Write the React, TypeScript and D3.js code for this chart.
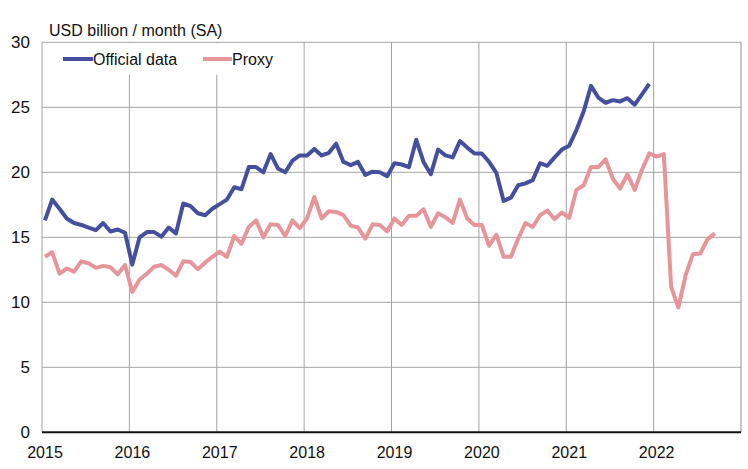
import React from "react";
import * as d3 from "d3";

const startYear = 2015;
const yearTicks = [2015, 2016, 2017, 2018, 2019, 2020, 2021, 2022];
const yTicks = [0, 5, 10, 15, 20, 25, 30];

// Monthly values from Jan 2015
const officialData = [
  16.3, 17.9, 17.2, 16.45, 16.1, 15.95, 15.75, 15.55, 16.1, 15.45, 15.6, 15.35,
  12.9, 15.0, 15.4, 15.4, 15.05, 15.75, 15.3, 17.6, 17.4, 16.85, 16.7, 17.2,
  17.55, 17.9, 18.85, 18.7, 20.4, 20.4, 20.0, 21.4, 20.3, 20.0, 20.9, 21.3,
  21.3, 21.8, 21.3, 21.5, 22.2, 20.8, 20.55, 20.8, 19.8, 20.05, 20.0, 19.7,
  20.7, 20.6, 20.4, 22.5, 20.8, 19.85, 21.75, 21.3, 21.15, 22.4, 21.9, 21.45,
  21.45, 20.8, 19.95, 17.8, 18.05, 19.0, 19.15, 19.4, 20.7, 20.5, 21.15, 21.75,
  22.05, 23.25, 24.7, 26.65, 25.75, 25.35, 25.55, 25.45, 25.7, 25.2, 26.0, 26.8,
];

const proxyData = [
  13.5, 13.85, 12.2, 12.6, 12.36, 13.15, 13.0, 12.65, 12.8, 12.7, 12.15, 12.87,
  10.8, 11.75, 12.2, 12.74, 12.87, 12.5, 12.05, 13.15, 13.1, 12.55, 13.05, 13.5,
  13.9, 13.5, 15.1, 14.5, 15.8, 16.3, 15.0, 16.0, 15.95, 15.1, 16.3, 15.7,
  16.45, 18.1, 16.45, 17.0, 16.95, 16.7, 15.9, 15.75, 14.9, 16.0, 15.95, 15.45,
  16.45, 15.95, 16.65, 16.65, 17.15, 15.8, 16.85, 16.55, 16.1, 17.9, 16.45, 15.95,
  15.95, 14.35, 15.2, 13.5, 13.5, 14.9, 16.1, 15.8, 16.7, 17.05, 16.4, 16.9,
  16.5, 18.65, 19.0, 20.4, 20.4, 21.0, 19.5, 18.75, 19.85, 18.65, 20.2, 21.45,
  21.2, 21.4, 11.2, 9.6, 12.1, 13.7, 13.75, 14.85, 15.3,
];

const seriesNames = ["Official data", "Proxy"];
const yAxisTitle = "USD billion / month (SA)";

const W = 748;
const H = 469;
const left = 42;
const right = 741;
const top = 42.3;
const bottom = 432.3;

const BLUE = "#444f9e";
const PINK = "#e6969a";
const GRID = "#a3a3a3";

export default function App() {
  const x = d3.scaleLinear().domain([2015, 2023]).range([left, right]);
  const y = d3.scaleLinear().domain([0, 30]).range([bottom, top]);

  const toPoints = (arr: number[]) =>
    arr.map((v, i) => [startYear + (i + 0.4) / 12, v] as [number, number]);

  const line = d3
    .line<[number, number]>()
    .x((d) => x(d[0]))
    .y((d) => y(d[1]));

  const font = "'Liberation Sans', Arial, Helvetica, sans-serif";

  return (
    <svg
      width={W}
      height={H}
      style={{ position: "absolute", left: 0, top: 0, background: "#fff" }}
      fontFamily={font}
    >
      {/* horizontal grid */}
      {yTicks.slice(1).map((t) => (
        <line key={"h" + t} x1={left} x2={right} y1={y(t)} y2={y(t)} stroke={GRID} strokeWidth={1} />
      ))}
      {/* vertical grid */}
      {yearTicks.slice(1).map((t) => (
        <line key={"v" + t} x1={x(t)} x2={x(t)} y1={top} y2={bottom} stroke={GRID} strokeWidth={1} />
      ))}
      {/* borders */}
      <line x1={left} x2={left} y1={top} y2={bottom} stroke={GRID} strokeWidth={1} />
      <line x1={right} x2={right} y1={top} y2={bottom} stroke={GRID} strokeWidth={1.2} />
      {/* legend box */}
      <rect x={48} y={top + 0.8} width={240} height={31.5} fill="#fff" />
      <line x1={63} x2={93} y1={59} y2={59} stroke={BLUE} strokeWidth={4} />
      <text x={93} y={65} fontSize={16} fill="#111">{seriesNames[0]}</text>
      <line x1={203} x2={232} y1={59} y2={59} stroke={PINK} strokeWidth={4} />
      <text x={232} y={65} fontSize={16} fill="#111">{seriesNames[1]}</text>

      {/* series */}
      <path d={line(toPoints(proxyData)) || ""} fill="none" stroke={PINK} strokeWidth={4} strokeLinejoin="round" />
      <path d={line(toPoints(officialData)) || ""} fill="none" stroke={BLUE} strokeWidth={4} strokeLinejoin="round" />

      {/* x axis */}
      <line x1={left} x2={right} y1={bottom} y2={bottom} stroke="#111" strokeWidth={2} />
      {yearTicks.map((t) => (
        <text key={"xl" + t} x={x(t) + 3} y={458} fontSize={16} textAnchor="middle" fill="#111">
          {t}
        </text>
      ))}
      {/* y labels */}
      {yTicks.map((t) => (
        <text key={"yl" + t} x={30} y={y(t) + 6} fontSize={17} textAnchor="end" fill="#111">
          {t}
        </text>
      ))}
      <text x={49} y={36} fontSize={16} fill="#111">{yAxisTitle}</text>
    </svg>
  );
}
